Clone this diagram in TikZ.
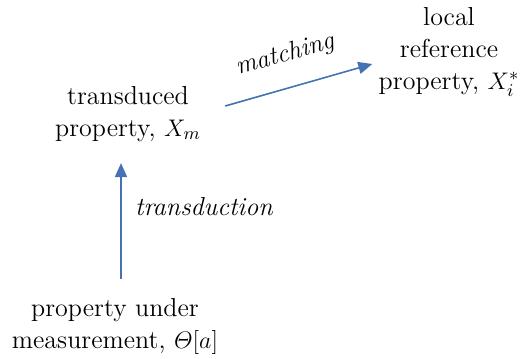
\documentclass[tikz,border=0pt]{standalone}
\usepackage{amsmath}
\usepackage{xcolor}
\usetikzlibrary{arrows.meta,positioning}
\definecolor{flowblue}{HTML}{4472B4}
\tikzset{
 prop/.style={align=center,font=\fontsize{13}{16}\selectfont,inner sep=1pt},
 flow/.style={flowblue,line width=.8pt,-{Triangle[length=7pt,width=6pt]}},
 act/.style={font=\fontsize{13}{16}\selectfont\itshape}
}
\begin{document}
\begin{tikzpicture}[x=.5pt,y=-.5pt]
\useasboundingbox (0,0) rectangle (520,359);
\node[prop] (tp) at (128,114) {transduced\\property, \(X_m\)};
\node[prop] (lrp) at (449,52) {local\\reference\\property, \(X_i^*\)};
\node[prop] (pum) at (115,326) {property under\\measurement, \(\varTheta[a]\)};
\draw[flow] ([xshift=3pt,yshift=8.5pt]pum.north) -- ([xshift=-3.5pt,yshift=-9.5pt]tp.south);
\draw[flow] ([xshift=11pt,yshift=4pt]tp.east) -- ([xshift=-2pt,yshift=-6pt]lrp.west);
\node[act,anchor=west] (trd) at (128,207) {transduction};
\node[act,rotate=15.5] (mtc) at (285,55) {matching};
\end{tikzpicture}
\end{document}
